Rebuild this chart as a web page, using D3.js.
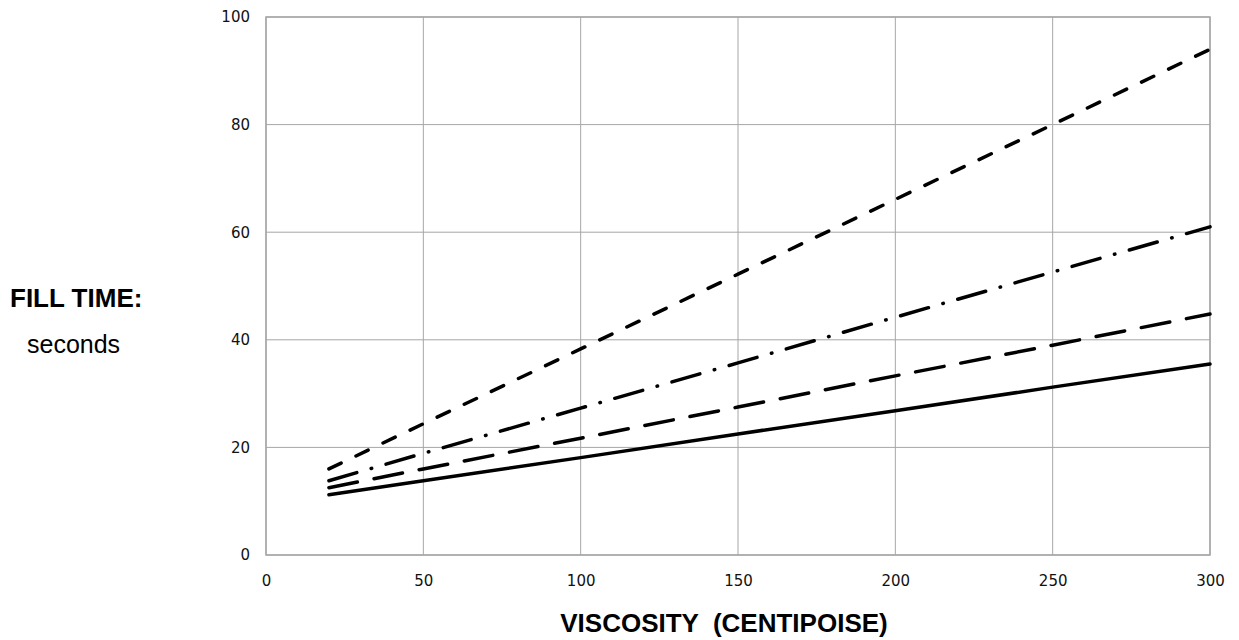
<!DOCTYPE html>
<html>
<head>
<meta charset="utf-8">
<script src="https://cdn.jsdelivr.net/npm/d3@7"></script>
<style>
  body { margin: 0; background: #fff; }
  .tick text { font-family: "DejaVu Sans", Verdana, sans-serif; font-size: 15px; fill: #111; }
  .title { font-family: "Liberation Sans", Arial, sans-serif; fill: #000; }
</style>
</head>
<body>
<script>
// viscosity values (centipoise)
var viscosity = [20, 50, 100, 150, 200, 250, 300];
// fill time in seconds, one array per curve
var solidLine   = [11.2, 13.8, 18.1, 22.5, 26.8, 31.2, 35.5];
var longDash    = [12.5, 16.0, 21.7, 27.5, 33.3, 39.0, 44.8];
var dashDot     = [13.8, 18.9, 27.3, 35.7, 44.2, 52.6, 61.0];
var shortDash   = [16.0, 24.4, 38.3, 52.2, 66.1, 80.0, 94.0];

var xTicks = [0, 50, 100, 150, 200, 250, 300];
var yTicks = [0, 20, 40, 60, 80, 100];

var W = 1239, H = 640;
var margin = {top: 17, right: 29, bottom: 85, left: 266};
var w = W - margin.left - margin.right,
    h = H - margin.top - margin.bottom;

var svg = d3.select("body").append("svg")
    .attr("width", W)
    .attr("height", H);

var g = svg.append("g")
    .attr("transform", "translate(" + margin.left + "," + margin.top + ")");

var x = d3.scaleLinear().domain([0, 300]).range([0, w]);
var y = d3.scaleLinear().domain([0, 100]).range([h, 0]);

/* grid */
g.append("g").selectAll("line.vg")
  .data(xTicks).enter().append("line")
    .attr("x1", d => x(d)).attr("x2", d => x(d))
    .attr("y1", 0).attr("y2", h)
    .attr("stroke", "#a6a6a6").attr("stroke-width", 1);
g.append("g").selectAll("line.hg")
  .data(yTicks).enter().append("line")
    .attr("y1", d => y(d)).attr("y2", d => y(d))
    .attr("x1", 0).attr("x2", w)
    .attr("stroke", "#a6a6a6").attr("stroke-width", 1);
g.append("rect")
  .attr("width", w).attr("height", h)
  .attr("fill", "none").attr("stroke", "#a6a6a6").attr("stroke-width", 1.5);

/* axes */
var xAxis = d3.axisBottom(x).tickValues(xTicks).tickSize(0).tickPadding(20);
var yAxis = d3.axisLeft(y).tickValues(yTicks).tickSize(0).tickPadding(16);
g.append("g").attr("transform", "translate(0," + h + ")").call(xAxis)
  .call(a => a.select(".domain").remove());
g.append("g").call(yAxis)
  .call(a => a.select(".domain").remove());

/* curves */
var curves = [
  {vals: solidLine, dash: null},
  {vals: longDash,  dash: "29,17"},
  {vals: dashDot,   dash: "29,15,0.5,15"},
  {vals: shortDash, dash: "13.5,16.5"}
];
var line = d3.line()
    .x((d, i) => x(viscosity[i]))
    .y(d => y(d));

g.selectAll("path.curve").data(curves).enter().append("path")
  .attr("class", "curve")
  .attr("d", d => line(d.vals))
  .attr("fill", "none")
  .attr("stroke", "#000")
  .attr("stroke-width", 3.5)
  .attr("stroke-linecap", "round")
  .attr("stroke-dasharray", d => d.dash);

/* titles */
svg.append("text").attr("class", "title")
  .attr("x", 10).attr("y", 307)
  .attr("font-size", 26).attr("font-weight", "bold")
  .text("FILL TIME:");
svg.append("text").attr("class", "title")
  .attr("x", 27).attr("y", 353)
  .attr("font-size", 25)
  .text("seconds");
svg.append("text").attr("class", "title")
  .attr("x", 724).attr("y", 632)
  .attr("text-anchor", "middle")
  .attr("font-size", 26).attr("font-weight", "bold")
  .attr("xml:space", "preserve")
  .style("white-space", "pre")
  .text("VISCOSITY  (CENTIPOISE)");
</script>
</body>
</html>
